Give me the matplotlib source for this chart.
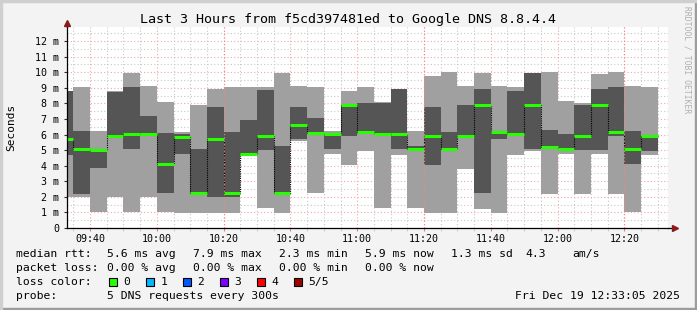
import matplotlib
matplotlib.use('Agg')
import matplotlib.pyplot as plt
from matplotlib.patches import Rectangle

# smoke values per 5 min step, in ms (min, 2nd, median, 4th, max of 5 pings)
ping_min = [1.97, 1.97, 1.03, 1.97, 1.03, 1.97, 1.03, 0.98, 0.98, 0.98, 0.98, 4.75,
            1.28, 0.98, 5.60, 2.27, 4.75, 4.06, 4.96, 1.28, 4.68, 1.28, 0.98, 0.98,
            3.81, 1.22, 0.98, 4.68, 4.96, 2.18, 4.75, 2.18, 4.75, 2.18, 1.03, 4.68]
ping_lo = [4.68, 2.18, 3.87, 5.90, 5.09, 6.03, 2.25, 4.75, 2.27, 2.01, 2.01, 4.75,
           5.01, 2.27, 5.69, 6.10, 5.07, 5.90, 6.03, 6.03, 5.07, 5.09, 4.06, 5.01,
           5.90, 2.25, 5.73, 6.03, 5.07, 5.11, 5.05, 5.01, 5.01, 5.90, 4.11, 4.96]
ping_med = [5.73, 5.09, 5.01, 5.90, 6.05, 6.05, 4.13, 5.86, 2.27, 5.73, 2.27, 4.75,
            5.90, 2.27, 6.61, 6.12, 6.03, 7.89, 6.18, 6.03, 6.03, 5.09, 5.90, 5.09,
            5.90, 7.89, 6.18, 6.03, 7.89, 5.22, 5.05, 5.90, 7.89, 6.18, 5.09, 5.90]
ping_hi = [8.79, 6.22, 5.01, 8.71, 9.03, 7.19, 6.10, 6.01, 5.07, 7.76, 6.16, 6.93,
           8.86, 5.26, 7.76, 7.06, 6.03, 7.89, 8.04, 8.04, 8.92, 5.26, 7.76, 6.16,
           7.89, 8.92, 6.18, 8.79, 9.97, 6.29, 6.03, 7.89, 8.92, 9.05, 6.22, 5.90]
ping_max = [8.79, 9.03, 6.22, 8.79, 9.97, 9.11, 8.11, 6.16, 7.89, 8.92, 9.05, 9.05,
            9.03, 9.97, 9.11, 9.05, 6.22, 8.79, 9.05, 8.11, 8.92, 6.22, 9.78, 10.01,
            9.11, 9.97, 9.11, 9.05, 9.97, 10.01, 8.15, 8.02, 9.88, 10.01, 9.11, 9.05]

# time axis in minutes since midnight
t_start = 9 * 60 + 33 + 5 / 60.0   # 09:33:05
t_end = t_start + 180
step = 5
first_end = 9 * 60 + 35
ends = [first_end + step * i for i in range(len(ping_med))]
lefts = [max(e - step, t_start) for e in ends]
widths = [e - l for e, l in zip(ends, lefts)]

tick_labels = ['09:40', '10:00', '10:20', '10:40', '11:00', '11:20', '11:40', '12:00', '12:20']
tick_pos = [9 * 60 + 40 + 20 * i for i in range(len(tick_labels))]
hour_marks = [10 * 60 + 20, 11 * 60 + 20, 12 * 60 + 20]
ylabels = ['0'] + ['%d m' % v for v in range(1, 13)]

loss_names = ['0', '1', '2', '3', '4', '5/5']
loss_colors = ['#26ff00', '#00b8ff', '#0059ff', '#7e00ff', '#ff0000', '#a10000']

MONO = 'DejaVu Sans Mono'
W, H = 697, 310
fig = plt.figure(figsize=(W / 100, H / 100), dpi=100, facecolor='#f3f3f3')

# frame shading
fig.patches.append(Rectangle((0, 0), 1, 2 / H, transform=fig.transFigure, color='#9c9c9c'))
fig.patches.append(Rectangle((1 - 2 / W, 0), 2 / W, 1, transform=fig.transFigure, color='#9c9c9c'))
fig.patches.append(Rectangle((0, 1 - 2 / H), 1, 2 / H, transform=fig.transFigure, color='#cfcfcf'))
fig.patches.append(Rectangle((0, 0), 2 / W, 1, transform=fig.transFigure, color='#cfcfcf'))

ax = fig.add_axes([67 / W, (H - 228) / H, 601 / W, 201 / H])
ax.set_facecolor('white')
ax.set_xlim(t_start, t_end)
ax.set_ylim(0, 12.9)

# grid
ax.set_xticks(tick_pos)
ax.set_xticklabels(tick_labels, fontfamily=MONO, fontsize=7.2)
ax.set_xticks([first_end + step * i for i in range(36)], minor=True)
ax.set_yticks(range(13))
ax.set_yticklabels(ylabels, fontfamily=MONO, fontsize=7.2)
ax.set_yticks([v + 0.5 for v in range(13)], minor=True)
ax.grid(which='minor', color='#c8c8c8', linestyle=(0, (1, 2)), linewidth=0.8)
ax.grid(which='major', color='#f0a8a8', linestyle=(0, (1, 2)), linewidth=0.8)
ax.set_axisbelow(True)
ax.tick_params(axis='x', which='major', length=2, color='#e08080', pad=2)
ax.tick_params(axis='x', which='minor', length=2, color='#c8c8c8')
ax.tick_params(axis='y', which='major', length=2, color='#303030', pad=3.5)
ax.tick_params(axis='y', which='minor', length=0)

for s in ['top', 'right']:
    ax.spines[s].set_visible(False)
for s in ['bottom', 'left']:
    ax.spines[s].set_color('black')
    ax.spines[s].set_linewidth(0.9)
    ax.spines[s].set_zorder(6)

# smoke
outer = [b - a for a, b in zip(ping_min, ping_max)]
inner = [b - a for a, b in zip(ping_lo, ping_hi)]
ax.bar(lefts, outer, bottom=ping_min, width=widths, align='edge', color='#a0a0a0', linewidth=0, zorder=2)
ax.bar(lefts, inner, bottom=ping_lo, width=widths, align='edge', color='#555555', linewidth=0, zorder=3)

# median: black dotted connectors, green steps
ax.step(lefts + [ends[-1]], ping_med + [ping_med[-1]], where='post', color='black',
        linestyle=(0, (1, 1)), linewidth=0.8, zorder=4)
ax.hlines(ping_med, lefts, ends, color=loss_colors[0], linewidth=2.2, zorder=5)

for t in hour_marks:
    ax.axvline(t, color='#ff8080', linestyle=(0, (1, 2)), linewidth=0.8, zorder=5)

# axis arrows
ax.plot([1.0, 1.012], [0, 0], transform=ax.transAxes, color='black', lw=0.9, clip_on=False, zorder=6)
ax.plot([1.012], [0], transform=ax.transAxes, marker='>', color='#8b1a1a', markersize=4, clip_on=False, zorder=7)
ax.plot([0, 0], [1.0, 1.02], transform=ax.transAxes, color='black', lw=0.9, clip_on=False, zorder=6)
ax.plot([0], [1.02], transform=ax.transAxes, marker='^', color='#8b1a1a', markersize=4, clip_on=False, zorder=7)


def put(x, y, s, **kw):
    kw.setdefault('fontsize', 8.2)
    kw.setdefault('va', 'center')
    fig.text(x / W, 1 - y / H, s, fontfamily=MONO, color='black', **kw)


put(348, 19, 'Last 3 Hours from f5cd397481ed to Google DNS 8.8.4.4', fontsize=9.6, ha='center')
put(11, 127, 'Seconds', fontsize=8, ha='center', rotation=90)
fig.text(687 / W, 1 - 60 / H, 'RRDTOOL / TOBI OETIKER', fontfamily=MONO, fontsize=5.8,
         color='#b0b0b0', ha='center', va='center', rotation=-90)

cols = [107, 193, 279, 365, 451]
put(16, 254, 'median rtt:')
for x, s in zip(cols, ['5.6 ms avg', '7.9 ms max', '2.3 ms min', '5.9 ms now', '1.3 ms sd']):
    put(x, 254, s)
put(525, 254, '4.3')
put(572, 254, 'am/s')

put(16, 268, 'packet loss:')
for x, s in zip(cols, ['0.00 % avg', '0.00 % max', '0.00 % min', '0.00 % now']):
    put(x, 268, s)

put(16, 282, 'loss color:')
for i, (name, c) in enumerate(zip(loss_names, loss_colors)):
    bx = 108.5 + 37 * i
    fig.patches.append(Rectangle((bx / W, 1 - 286 / H), 8 / W, 8 / H, transform=fig.transFigure,
                                 facecolor=c, edgecolor='black', linewidth=0.8))
    put(bx + 15, 282, name)

put(16, 296, 'probe:')
put(107, 296, '5 DNS requests every 300s')
put(680, 296, 'Fri Dec 19 12:33:05 2025', ha='right')

fig.savefig('out.png', dpi=100, facecolor=fig.get_facecolor())
